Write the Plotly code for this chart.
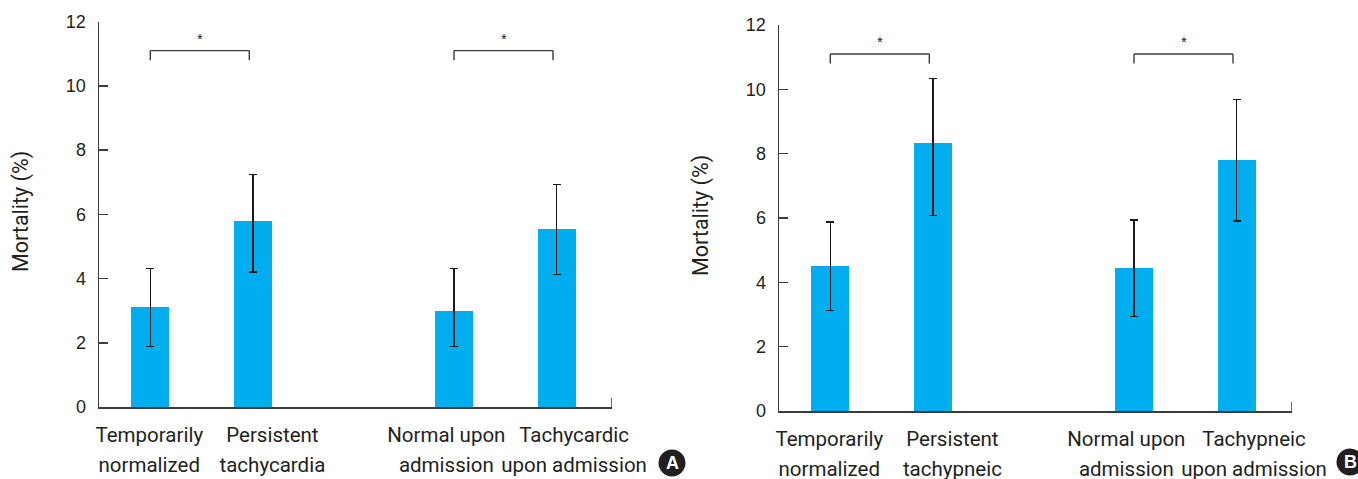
import plotly.graph_objects as go

# ---------------- data ----------------
labels_A = ["Temporarily<br>normalized", "Persistent<br>tachycardia",
            "Normal upon<br>admission", "Tachycardic<br>upon admission"]
values_A = [3.12, 5.80, 2.99, 5.55]
upper_A = [4.32, 7.24, 4.32, 6.93]
lower_A = [1.89, 4.20, 1.89, 4.12]

labels_B = ["Temporarily<br>normalized", "Persistent<br>tachypneic",
            "Normal upon<br>admission", "Tachypneic<br>upon admission"]
values_B = [4.51, 8.33, 4.45, 7.80]
upper_B = [5.87, 10.33, 5.94, 9.68]
lower_B = [3.12, 6.08, 2.93, 5.91]

bracket_pairs = [(0, 1), (2, 3)]
bracket_level = 11.1
y_ticks = [0, 2, 4, 6, 8, 10, 12]
y_title = "Mortality (%)"
panel_tags = ["A", "B"]

# ---------------- layout constants ----------------
slots = [0, 1, 2.96, 3.96]
label_shift = [-0.01, 0.19, -0.075, 0.17]
W, H = 1358, 479
BAR_COLOR = "#00AEEF"
LINE_COLOR = "#3c3c3c"
TEXT_COLOR = "#231f20"
LABEL_FONT = "Roboto, Liberation Sans, sans-serif"
TICK_FONT = "Liberation Sans, Arial, sans-serif"


def styled(label, size=20.5):
    # glyphs at `size`, line spacing driven by the (larger) axis tick font size
    return "<br>".join(f"<span style='font-size:{size}px'>{part}</span>" for part in label.split("<br>"))


panels = [
    dict(labels=labels_A, values=values_A, upper=upper_A, lower=lower_A,
         xdom=[99 / W, 612 / W], ydom=[72 / H, 457.3 / H],
         title_xy=(21 / W, (H - 212) / H), tag_xy=(672, 463)),
    dict(labels=labels_B, values=values_B, upper=upper_B, lower=lower_B,
         xdom=[779 / W, 1292 / W], ydom=[68 / H, 454 / H],
         title_xy=(701 / W, (H - 216) / H), tag_xy=(1350, 462)),
]

fig = go.Figure()
shapes = []
annotations = []

for i, p in enumerate(panels):
    xa = "x" if i == 0 else f"x{i + 1}"
    ya = "y" if i == 0 else f"y{i + 1}"
    xkey = "xaxis" if i == 0 else f"xaxis{i + 1}"
    ykey = "yaxis" if i == 0 else f"yaxis{i + 1}"

    err_plus = [u - v for u, v in zip(p["upper"], p["values"])]
    err_minus = [v - l for v, l in zip(p["values"], p["lower"])]

    fig.add_trace(go.Bar(
        x=slots, y=p["values"], width=0.37, marker=dict(color=BAR_COLOR, line=dict(width=0)),
        error_y=dict(type="data", symmetric=False, array=err_plus, arrayminus=err_minus,
                     color="#1a1a1a", thickness=1.4, width=4),
        xaxis=xa, yaxis=ya, showlegend=False, hoverinfo="skip",
    ))

    fig.layout[xkey] = dict(
        domain=p["xdom"], range=[-0.5, 4.5], anchor=ya, automargin=False,
        showline=True, linecolor=LINE_COLOR, linewidth=1.5,
        showgrid=False, zeroline=False, ticks="", tickangle=0,
        tickvals=[s + d for s, d in zip(slots, label_shift)],
        ticktext=[styled(t) for t in p["labels"]],
        tickfont=dict(family=LABEL_FONT, size=23, color=TEXT_COLOR),
        ticklabelstandoff=6, fixedrange=True,
    )
    fig.layout[ykey] = dict(
        domain=p["ydom"], range=[0, 12], anchor=xa, automargin=False,
        showline=True, linecolor=LINE_COLOR, linewidth=1.5,
        showgrid=False, zeroline=False,
        ticks="inside", ticklen=9, tickwidth=1.5, tickcolor=LINE_COLOR,
        tickvals=y_ticks, ticktext=[str(t) for t in y_ticks],
        tickfont=dict(family=TICK_FONT, size=18, color=TEXT_COLOR),
        ticklabelstandoff=8, fixedrange=True,
    )

    # right end tick of the x axis
    shapes.append(dict(type="line", xref=xa, yref=ya, x0=4.5, x1=4.5, y0=0, y1=0.28,
                       line=dict(color=LINE_COLOR, width=1.5)))

    # significance brackets
    for a, b in bracket_pairs:
        xl = slots[a]
        xr = slots[b] - 0.035
        for seg in [(xl, bracket_level - 0.3, xl, bracket_level),
                    (xl, bracket_level, xr, bracket_level),
                    (xr, bracket_level, xr, bracket_level - 0.3)]:
            shapes.append(dict(type="line", xref=xa, yref=ya,
                               x0=seg[0], y0=seg[1], x1=seg[2], y1=seg[3],
                               line=dict(color=LINE_COLOR, width=1.4)))
        annotations.append(dict(text="*", xref=xa, yref=ya, x=(xl + xr) / 2, y=bracket_level,
                                yanchor="bottom", xanchor="center", showarrow=False, yshift=2,
                                font=dict(family=TICK_FONT, size=15, color=TEXT_COLOR)))

    # y axis title
    annotations.append(dict(text=y_title, xref="paper", yref="paper",
                            x=p["title_xy"][0], y=p["title_xy"][1], textangle=-90,
                            xanchor="center", yanchor="middle", showarrow=False,
                            font=dict(family=LABEL_FONT, size=21.5, color=TEXT_COLOR)))

    # panel tag
    cx, cy = p["tag_xy"]
    r = 13.5
    shapes.append(dict(type="circle", xref="paper", yref="paper",
                       x0=(cx - r) / W, x1=(cx + r) / W, y0=(H - cy - r) / H, y1=(H - cy + r) / H,
                       fillcolor=TEXT_COLOR, line=dict(width=0)))
    annotations.append(dict(text="<b>" + panel_tags[i] + "</b>", xref="paper", yref="paper",
                            x=cx / W, y=(H - cy) / H, xanchor="center", yanchor="middle",
                            showarrow=False,
                            font=dict(family=TICK_FONT, size=18, color="white")))

fig.update_layout(
    width=W, height=H, autosize=False,
    margin=dict(l=0, r=0, t=0, b=0, pad=0),
    paper_bgcolor="white", plot_bgcolor="white",
    shapes=shapes, annotations=annotations, bargap=0,
)

fig.write_html("out.html", config={"displayModeBar": False, "staticPlot": True},
               post_script="document.body.style.margin='0';document.body.style.padding='0';document.body.style.overflow='hidden';")
